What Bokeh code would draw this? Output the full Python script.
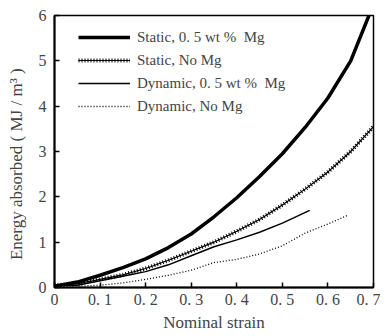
from bokeh.plotting import figure
from bokeh.models import Range1d, Legend, LegendItem, FixedTicker
from bokeh.embed import file_html
from bokeh.resources import INLINE

# Static, 0.5 wt% Mg
s_mg_x = [0.0, 0.05, 0.10, 0.15, 0.20, 0.25, 0.30, 0.35, 0.40, 0.45, 0.50, 0.55, 0.60, 0.65, 0.69]
s_mg_y = [0.03, 0.12, 0.27, 0.44, 0.63, 0.88, 1.18, 1.56, 1.98, 2.45, 2.95, 3.53, 4.18, 5.00, 6.00]
# Static, No Mg
s_no_x = [0.0, 0.05, 0.10, 0.15, 0.20, 0.25, 0.30, 0.35, 0.40, 0.45, 0.50, 0.55, 0.60, 0.65, 0.70]
s_no_y = [0.05, 0.08, 0.18, 0.28, 0.42, 0.60, 0.80, 1.00, 1.24, 1.50, 1.82, 2.17, 2.55, 3.00, 3.55]
# Dynamic, 0.5 wt% Mg
d_mg_x = [0.0, 0.05, 0.10, 0.15, 0.20, 0.25, 0.30, 0.35, 0.40, 0.45, 0.50, 0.56]
d_mg_y = [0.05, 0.05, 0.15, 0.25, 0.35, 0.50, 0.70, 0.90, 1.05, 1.22, 1.42, 1.70]
# Dynamic, No Mg
d_no_x = [0.0, 0.05, 0.10, 0.15, 0.20, 0.25, 0.30, 0.35, 0.40, 0.45, 0.50, 0.55, 0.60, 0.645]
d_no_y = [0.02, 0.03, 0.05, 0.10, 0.18, 0.27, 0.38, 0.55, 0.62, 0.74, 0.92, 1.20, 1.40, 1.60]

x_ticks = [0, 0.1, 0.2, 0.3, 0.4, 0.5, 0.6, 0.7]
x_tick_labels = ["0", "0. 1", "0. 2", "0. 3", "0. 4", "0. 5", "0. 6", "0. 7"]
y_ticks = [0, 1, 2, 3, 4, 5, 6]

labels = ["Static, 0. 5 wt %  Mg", "Static, No Mg", "Dynamic, 0. 5 wt %  Mg", "Dynamic, No Mg"]

FONT = "Liberation Serif"

p = figure(width=380, height=334, output_backend="svg", toolbar_location=None,
           x_range=Range1d(0, 0.7), y_range=Range1d(0, 6),
           min_border_left=54, min_border_right=7, min_border_top=15, min_border_bottom=43)
p.grid.visible = False
p.background_fill_color = "white"
p.border_fill_color = "white"
p.outline_line_color = "black"
p.outline_line_width = 1.5

r1 = p.line(s_mg_x, s_mg_y, line_color="black", line_width=3.5)
r2a = p.line(s_no_x, s_no_y, line_color="black", line_width=1.2)
r2b = p.line(s_no_x, s_no_y, line_color="black", line_width=4, line_dash="1 2")
r3 = p.line(d_mg_x, d_mg_y, line_color="black", line_width=1.5)
r4 = p.line(d_no_x, d_no_y, line_color="black", line_width=1.3, line_dash="1 2")

legend = Legend(items=[LegendItem(label=labels[0], renderers=[r1]),
                       LegendItem(label=labels[1], renderers=[r2a, r2b]),
                       LegendItem(label=labels[2], renderers=[r3]),
                       LegendItem(label=labels[3], renderers=[r4])],
                location=(24, 171), border_line_color=None, background_fill_alpha=0,
                padding=0, margin=0, spacing=3, label_height=20, glyph_height=20,
                glyph_width=52, label_standoff=7,
                label_text_font=FONT, label_text_font_size="15px")
p.add_layout(legend)

for ax in (p.xaxis[0], p.yaxis[0]):
    ax.axis_line_width = 2
    ax.axis_line_color = "black"
    ax.major_tick_in = 5
    ax.major_tick_out = 0
    ax.minor_tick_line_color = None
    ax.major_tick_line_width = 1.5
    ax.major_label_text_font = FONT
    ax.major_label_text_font_size = "16px"
    ax.axis_label_text_font = FONT
    ax.axis_label_text_font_size = "17px"
    ax.axis_label_text_font_style = "normal"

p.xaxis.ticker = FixedTicker(ticks=x_ticks)
p.xaxis.major_label_overrides = {t: l for t, l in zip(x_ticks, x_tick_labels)}
p.yaxis.ticker = FixedTicker(ticks=y_ticks)
p.xaxis.axis_label = "Nominal strain"
p.yaxis.axis_label = "Energy absorbed ( MJ / m³ )\u00a0\u00a0\u00a0\u00a0\u00a0\u00a0"
p.xaxis.major_label_standoff = 3
p.xaxis.axis_label_standoff = 2
p.yaxis.major_label_standoff = 8
p.yaxis.axis_label_standoff = 10

open("out.html", "w").write(file_html(p, INLINE))
